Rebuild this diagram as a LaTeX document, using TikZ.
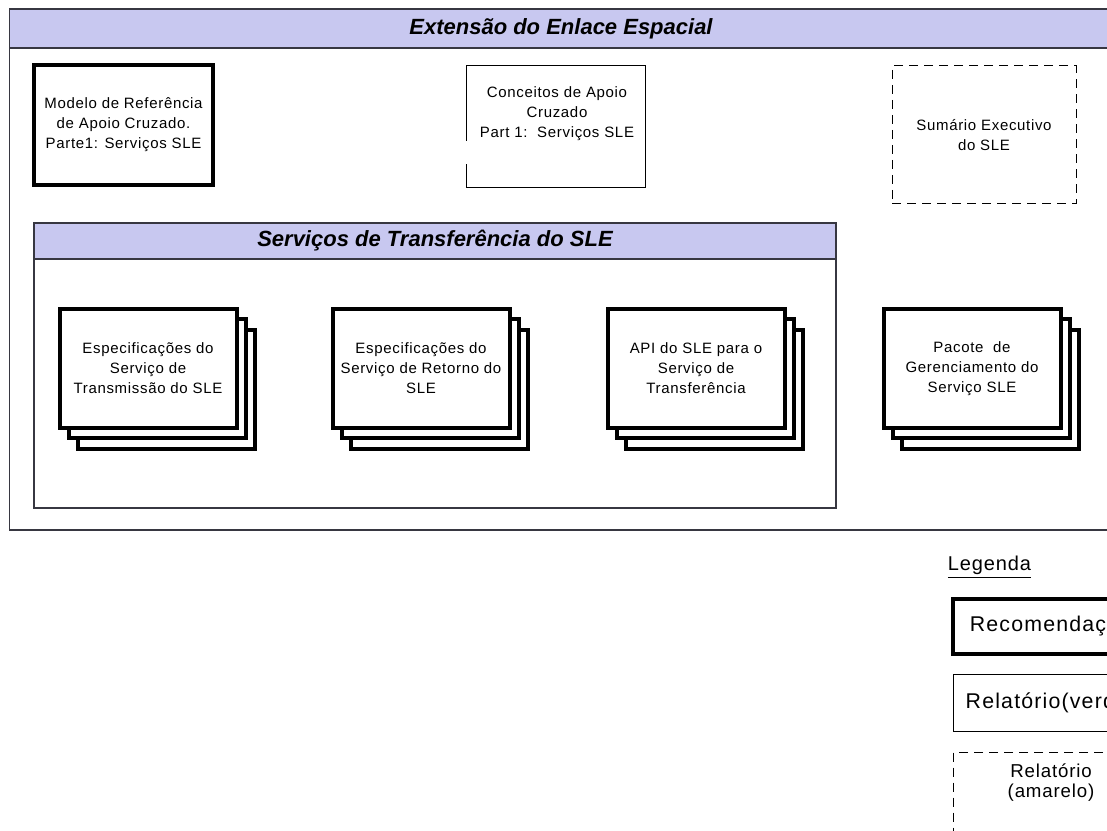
\documentclass[tikz,border=0pt]{standalone}
\usepackage{fontspec}
\setmainfont{Liberation Sans}
\newfontfamily\docfont[LetterSpace=4.5]{Liberation Sans}
\newfontfamily\legfont[LetterSpace=5.5]{Liberation Sans}
\usetikzlibrary{shadows}
\definecolor{bandfill}{RGB}{200,200,240}
\definecolor{frameline}{RGB}{55,55,65}

\begin{document}
\begin{tikzpicture}[x=0.75pt,y=-0.75pt,
  frame/.style={draw=frameline, line width=1.1pt},
  band/.style={fill=bandfill, draw=frameline, line width=1.1pt},
  bandtitle/.style={font=\fontsize{16.5pt}{20pt}\selectfont\bfseries\itshape, inner sep=0pt},
  doc/.style={align=center, inner sep=0pt, font=\docfont\fontsize{11.25pt}{15pt}\selectfont},
  legtext/.style={align=center, inner sep=0pt, font=\docfont\fontsize{15pt}{15pt}\selectfont},
  legbox/.style={align=center, inner sep=0pt, font=\legfont\fontsize{16pt}{15pt}\selectfont},
  legsmall/.style={align=center, inner sep=0pt, font=\docfont\fontsize{14pt}{15pt}\selectfont},
  recline/.style={draw=black, line width=3pt},
  thinline/.style={draw=black, line width=0.75pt},
  dashline/.style={draw=black, line width=0.75pt, dash pattern=on 6.75pt off 4.5pt},
  rec/.style={doc, recline, fill=white},
  stackbox/.style={rec, minimum width=132.75pt, minimum height=89.25pt,
    double copy shadow={shadow xshift=7.1pt, shadow yshift=-7.7pt,
      draw=black, fill=white, line width=3pt}},
]
\useasboundingbox (0,0) rectangle (1107,831);
\clip (0,0) rectangle (1107,831);
\fill[white] (0,0) rectangle (1107,831);

% outer frame: space link extension
\draw[frame] (9.5,9) rectangle (1112,530);
\draw[band] (9.5,9) rectangle (1112,48);
\node[bandtitle] (outertitle) at (561,29) {Extensão do Enlace Espacial};

% top row of documents
\node[rec, minimum width=134.25pt, minimum height=90pt] (modelo) at (123.5,125)
  {Modelo de Referência\\de Apoio Cruzado.\\Parte1: Serviços SLE};

\node[inner sep=0pt, minimum width=133.5pt, minimum height=90.75pt] (conceitos) at (556,126.5) {};
\node[doc] (conceitostext) at (557,114) {Conceitos de Apoio\\Cruzado\\Part 1:\ \ Serviços SLE};
\draw[thinline] ([yshift=34.9pt]conceitos.south west) -- (conceitos.north west)
  -- (conceitos.north east) -- (conceitos.south east) -- (conceitos.south west)
  -- ([yshift=17.6pt]conceitos.south west);

\node[doc, dashline, minimum width=138pt, minimum height=103.5pt] (sumario) at (984,135)
  {Sumário Executivo\\do SLE};

% inner frame: transfer services
\draw[frame] (34,223) rectangle (836,508);
\draw[band] (34,223) rectangle (836,259);
\node[bandtitle] (innertitle) at (435,241) {Serviços de Transferência do SLE};

% stacked document sets
\node[stackbox] (transmissao) at (148,368.5)
  {Especificações do\\Serviço de\\Transmissão do SLE};
\node[stackbox] (retorno) at (421,368.5)
  {Especificações do\\Serviço de Retorno do\\SLE};
\node[stackbox] (api) at (696,368.5)
  {API do SLE para o\\Serviço de\\Transferência};
\node[stackbox] (pacote) at (972,368.5)
  {Pacote\ \ de\\Gerenciamento do\\Serviço SLE};

% legend
\node[legtext] (legenda) at (989.5,567) {\underline{Legenda}};
\node[legbox, recline, minimum width=147pt, minimum height=41.25pt] (legrec) at (1051,626.5)
  {Recomendação};
\node[legbox, thinline, minimum width=147pt, minimum height=42.75pt] (legverde) at (1051,702.5)
  {Relatório(verde)};
\node[dashline, inner sep=0pt, minimum width=147pt, minimum height=66pt, anchor=north] (legamarelo) at (1051,752)
  {};
\node[legsmall] (legamarelotext) at (1051,783) {Relatório\\(amarelo)};
\end{tikzpicture}
\end{document}
